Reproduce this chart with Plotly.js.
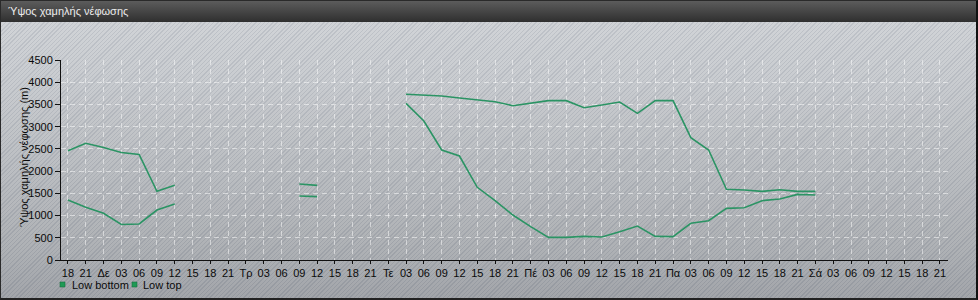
<!DOCTYPE html>
<html>
<head>
<meta charset="utf-8">
<script src="https://cdn.plot.ly/plotly-3.0.1.min.js"></script>
<style>
  html, body { margin: 0; padding: 0; }
  #wrap {
    position: relative; width: 978px; height: 300px; box-sizing: border-box;
    border: 1px solid #2a2a2a; border-right: 2px solid #111; border-bottom: 2px solid #222;
    background:
      repeating-linear-gradient(135deg, rgba(90,100,120,0.13) 0px, rgba(90,100,120,0.13) 1px, rgba(255,255,255,0.06) 1px, rgba(255,255,255,0.06) 3px),
      linear-gradient(to bottom, #d0d3d7 0px, #c6c9cd 80px, #a9acb0 250px, #9c9fa4 300px);
    overflow: hidden;
  }
  #hdr {
    position: absolute; left: 0; top: 0; width: 100%; height: 21px;
    background: linear-gradient(to bottom, #5c5c5c, #2f2f2f);
    color: #ececec; font: 11px "Liberation Sans", Arial, sans-serif; line-height: 21px;
    padding-left: 7px; box-sizing: border-box; z-index: 2;
  }
  #chart { position: absolute; left: -1px; top: -1px; width: 978px; height: 300px; }
</style>
</head>
<body>
<div id="wrap">
  <div id="hdr">Ύψος χαμηλής νέφωσης</div>
  <div id="chart"></div>
</div>
<script>
// Tick labels, one per 3-hour step
const tickLabels = ['18','21',
  'Δε','03','06','09','12','15','18','21',
  'Τρ','03','06','09','12','15','18','21',
  'Τε','03','06','09','12','15','18','21',
  'Πέ','03','06','09','12','15','18','21',
  'Πα','03','06','09','12','15','18','21',
  'Σά','03','06','09','12','15','18','21'];

// Low cloud bottom height (m), per 3-hour step (null = no data)
const lowBottom = [1350,1185,1050,800,810,1125,1260,
  null,null,null,null,null,null,
  1440,1425,
  null,null,null,null,
  3525,3127,2475,2340,1635,1335,1012,750,510,510,532,517,637,765,532,525,825,885,1162,1177,1335,1372,1477,1462];

// Low cloud top height (m), per 3-hour step
const lowTop = [2460,2625,2530,2420,2375,1545,1680,
  null,null,null,null,null,null,
  1710,1680,
  null,null,null,null,
  3728,3712,3690,3645,3607,3562,3472,3525,3585,3585,3427,3487,3555,3300,3585,3585,2752,2475,1590,1575,1545,1582,1545,1545];

const seriesNames = ['Low bottom', 'Low top'];
const yTitle = 'Ύψος χαμηλής νέφωσης (m)';
const lineColor = '#2b9464';
const markColor = '#1f9a55';

const steps = tickLabels.map((_, i) => i);
const xB = lowBottom.map((_, i) => i);
const xT = lowTop.map((_, i) => i);

const traces = [
  {x: xB, y: lowBottom, mode: 'lines', name: seriesNames[0], line: {color: lineColor, width: 1.6}, connectgaps: false, showlegend: false, hoverinfo: 'skip'},
  {x: xT, y: lowTop, mode: 'lines', name: seriesNames[1], line: {color: lineColor, width: 1.6}, connectgaps: false, showlegend: false, hoverinfo: 'skip'}
];

const font = {family: '"Liberation Sans", Arial, sans-serif', size: 11, color: '#0a0a0a'};
const gridCol = 'rgba(255,255,255,0.5)';

// legend built from shapes + annotations (pixel offsets from plot's bottom-left)
const legendSquares = [[-1, 4], [71, 76]];
const legendText = [9, 80];

const shapes = seriesNames.map((n, i) => ({
  type: 'rect', xref: 'paper', yref: 'paper', xsizemode: 'pixel', ysizemode: 'pixel',
  xanchor: 0, yanchor: 0, x0: legendSquares[i][0], x1: legendSquares[i][1], y0: -22, y1: -27,
  fillcolor: markColor, line: {width: 0.6, color: '#17703f'}
}));
const annotations = seriesNames.map((n, i) => ({
  text: n, xref: 'paper', yref: 'paper', x: 0, y: 0, xshift: legendText[i], yshift: -24.5,
  xanchor: 'left', yanchor: 'middle', showarrow: false, font: font
}));
annotations.push({
  text: yTitle, xref: 'paper', yref: 'paper', x: 0, y: 0.515, xshift: -37,
  xanchor: 'center', yanchor: 'middle', textangle: -90, showarrow: false, font: font
});

const layout = {
  width: 978, height: 300,
  margin: {l: 61, r: 30, t: 60, b: 40},
  paper_bgcolor: 'rgba(0,0,0,0)',
  plot_bgcolor: 'rgba(0,0,0,0)',
  font: font,
  showlegend: false,
  xaxis: {
    range: [-0.39, 49.45],
    tickmode: 'array', tickvals: steps, ticktext: tickLabels,
    ticks: 'outside', ticklen: 3, tickcolor: '#111', tickwidth: 1,
    showline: true, linecolor: '#111', linewidth: 1,
    showgrid: true, gridcolor: gridCol, griddash: '5px,4px', gridwidth: 1,
    zeroline: false, tickangle: 0, tickfont: font, fixedrange: true, automargin: false
  },
  yaxis: {
    range: [0, 4500], tickvals: [0,500,1000,1500,2000,2500,3000,3500,4000,4500],
    ticks: 'outside', ticklen: 5, tickcolor: '#111',
    showline: true, linecolor: '#111', linewidth: 1,
    showgrid: true, gridcolor: gridCol, griddash: '5px,4px', gridwidth: 1,
    zeroline: false, tickfont: font, automargin: false
  },
  shapes: shapes,
  annotations: annotations
};

Plotly.newPlot('chart', traces, layout, {staticPlot: true, displayModeBar: false});
</script>
</body>
</html>
